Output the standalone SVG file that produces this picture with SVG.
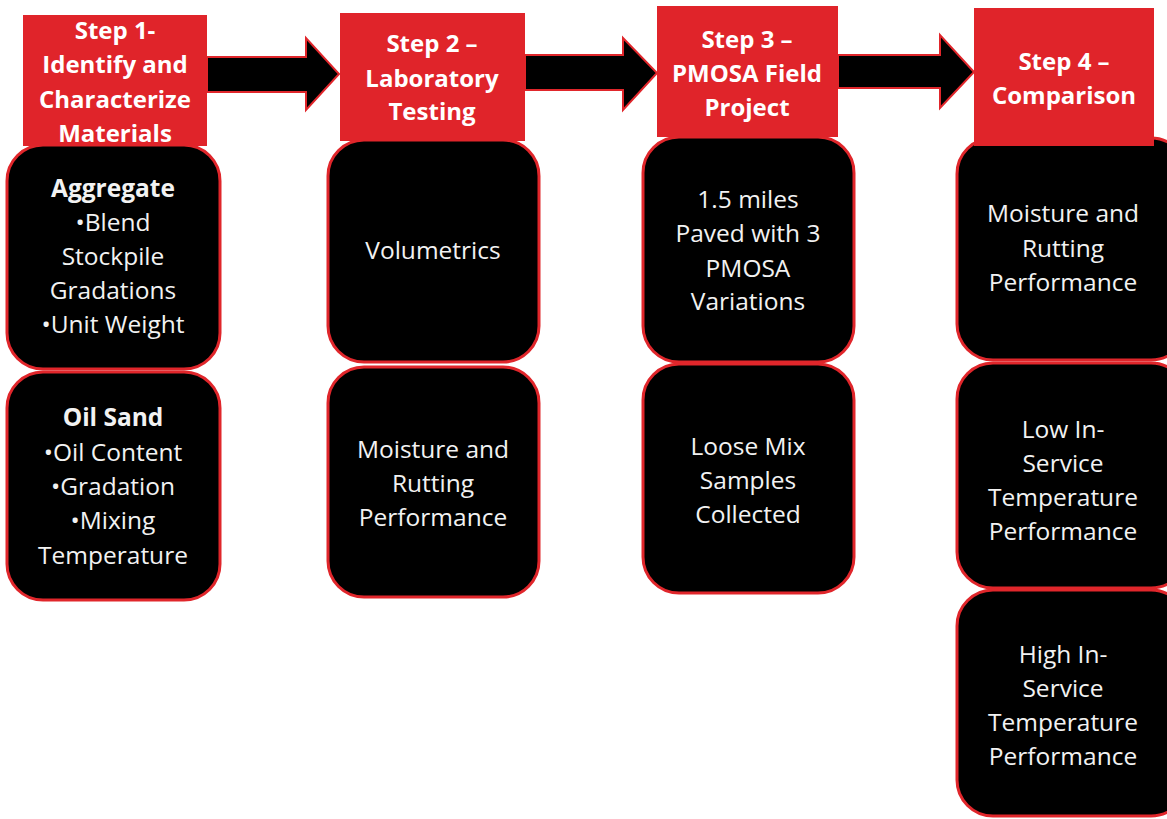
<svg xmlns="http://www.w3.org/2000/svg" width="1167" height="819" viewBox="0 0 1167 819">
<defs>
<style>
.box{fill:#000;stroke:#e0262b;stroke-width:3}
.hdr{fill:#e0242a}
.arrow{fill:#000;stroke:#e0262b;stroke-width:2;stroke-linejoin:miter}
.ht{font-family:"Open Sans","Liberation Sans",sans-serif;font-weight:bold;font-size:24px;fill:#fff;text-anchor:middle}
.bt{font-family:"Open Sans","Liberation Sans",sans-serif;font-size:24.5px;fill:#f2f2f2;text-anchor:middle}
.bb{font-weight:bold}
</style>
</defs>
<rect width="1167" height="819" fill="#fff"/>
<g id="connectors">
<polygon class="arrow" points="207,57 306,57 306,38 339,74 306,110 306,92 207,92"/>
<polygon class="arrow" points="525,55 623,55 623,38 657,73 623,110 623,90 525,90"/>
<polygon class="arrow" points="838,55 940,55 940,35 974,72 940,108 940,88 838,88"/>
</g>
<g id="col1">
<g id="agg"><rect class="box" x="7" y="145" width="213" height="224" rx="36"/>
<text class="bt"><tspan class="bb" x="113" y="197">Aggregate</tspan><tspan x="113" y="231">•Blend</tspan><tspan x="113" y="265">Stockpile</tspan><tspan x="113" y="299">Gradations</tspan><tspan x="113" y="333">•Unit Weight</tspan></text></g>
<g id="oilsand"><rect class="box" x="7" y="372" width="213" height="228" rx="36"/>
<text class="bt"><tspan class="bb" x="113" y="426">Oil Sand</tspan><tspan x="113" y="461">•Oil Content</tspan><tspan x="113" y="495">•Gradation</tspan><tspan x="113" y="529">•Mixing</tspan><tspan x="113" y="564">Temperature</tspan></text></g>
<g id="step1"><rect class="hdr" x="23" y="15" width="184" height="131"/>
<text class="ht"><tspan x="115" y="39">Step 1-</tspan><tspan x="115" y="73">Identify and</tspan><tspan x="115" y="108">Characterize</tspan><tspan x="115" y="142">Materials</tspan></text></g>
</g>
<g id="col2">
<g id="vol"><rect class="box" x="328" y="140" width="211" height="222" rx="36"/>
<text class="bt"><tspan x="433" y="259">Volumetrics</tspan></text></g>
<g id="mr2"><rect class="box" x="328" y="367" width="211" height="230" rx="36"/>
<text class="bt"><tspan x="433" y="458">Moisture and</tspan><tspan x="433" y="492">Rutting</tspan><tspan x="433" y="526">Performance</tspan></text></g>
<g id="step2"><rect class="hdr" x="340" y="13" width="185" height="128"/>
<text class="ht"><tspan x="432" y="52">Step 2 –</tspan><tspan x="432" y="87">Laboratory</tspan><tspan x="432" y="120">Testing</tspan></text></g>
</g>
<g id="col3">
<g id="paved"><rect class="box" x="643" y="137" width="211" height="225" rx="36"/>
<text class="bt"><tspan x="748" y="208">1.5 miles</tspan><tspan x="748" y="242">Paved with 3</tspan><tspan x="748" y="277">PMOSA</tspan><tspan x="748" y="310">Variations</tspan></text></g>
<g id="loose"><rect class="box" x="643" y="364" width="211" height="229" rx="36"/>
<text class="bt"><tspan x="748" y="455">Loose Mix</tspan><tspan x="748" y="489">Samples</tspan><tspan x="748" y="523">Collected</tspan></text></g>
<g id="step3"><rect class="hdr" x="657" y="6" width="181" height="131"/>
<text class="ht"><tspan x="747" y="48">Step 3 –</tspan><tspan x="747" y="82">PMOSA Field</tspan><tspan x="747" y="116">Project</tspan></text></g>
</g>
<g id="col4">
<g id="mr4"><rect class="box" x="957" y="138" width="230" height="222" rx="36"/>
<text class="bt"><tspan x="1063" y="222">Moisture and</tspan><tspan x="1063" y="257">Rutting</tspan><tspan x="1063" y="291">Performance</tspan></text></g>
<g id="low"><rect class="box" x="957" y="363" width="230" height="225" rx="36"/>
<text class="bt"><tspan x="1063" y="438">Low In-</tspan><tspan x="1063" y="472">Service</tspan><tspan x="1063" y="506">Temperature</tspan><tspan x="1063" y="540">Performance</tspan></text></g>
<g id="high"><rect class="box" x="957" y="590" width="230" height="226" rx="36"/>
<text class="bt"><tspan x="1063" y="663">High In-</tspan><tspan x="1063" y="697">Service</tspan><tspan x="1063" y="731">Temperature</tspan><tspan x="1063" y="765">Performance</tspan></text></g>
<g id="step4"><rect class="hdr" x="974" y="8" width="180" height="138"/>
<text class="ht"><tspan x="1064" y="70">Step 4 –</tspan><tspan x="1064" y="104">Comparison</tspan></text></g>
</g>
</svg>
